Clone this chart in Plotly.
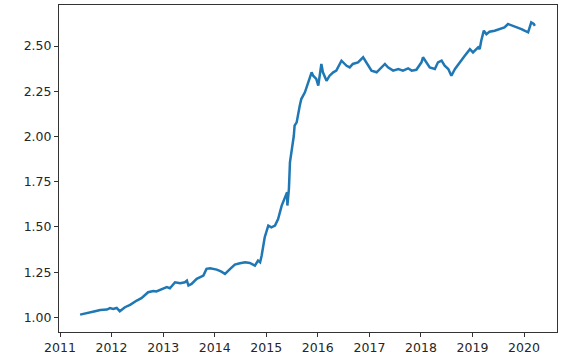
import pandas as pd
import plotly.graph_objects as go

# decimal years and values
years = [
    2011.39, 2011.58, 2011.68, 2011.78, 2011.91, 2011.97, 2012.03, 2012.10, 2012.16, 2012.26,
    2012.36, 2012.49, 2012.58, 2012.71, 2012.81, 2012.87, 2012.97, 2013.07, 2013.13, 2013.23,
    2013.33, 2013.42, 2013.46, 2013.49, 2013.55, 2013.65, 2013.78, 2013.84, 2013.91, 2014.04,
    2014.13, 2014.20, 2014.30, 2014.39, 2014.49, 2014.59, 2014.68, 2014.78, 2014.84, 2014.88,
    2014.91, 2014.94, 2014.97, 2015.04, 2015.10, 2015.17, 2015.23, 2015.30, 2015.36, 2015.405,
    2015.41, 2015.44, 2015.46, 2015.49, 2015.52, 2015.535, 2015.55, 2015.59, 2015.65, 2015.68,
    2015.75, 2015.81, 2015.88, 2015.91, 2015.97, 2016.01, 2016.04, 2016.07, 2016.10, 2016.17,
    2016.23, 2016.30, 2016.36, 2016.46, 2016.56, 2016.62, 2016.68, 2016.78, 2016.88, 2016.94,
    2017.04, 2017.14, 2017.20, 2017.30, 2017.36, 2017.46, 2017.56, 2017.65, 2017.75, 2017.82,
    2017.91, 2018.01, 2018.04, 2018.11, 2018.17, 2018.27, 2018.33, 2018.40, 2018.46, 2018.53,
    2018.59, 2018.66, 2018.75, 2018.85, 2018.95, 2019.01, 2019.11, 2019.14, 2019.17, 2019.22,
    2019.27, 2019.33, 2019.43, 2019.53, 2019.62, 2019.69, 2019.79, 2019.88, 2019.95, 2020.01,
    2020.08, 2020.11, 2020.14, 2020.19, 2020.21,
]
values = [
    1.015, 1.025, 1.034, 1.041, 1.043, 1.051, 1.047, 1.052, 1.034, 1.056,
    1.069, 1.093, 1.106, 1.139, 1.146, 1.143, 1.157, 1.167, 1.161, 1.194,
    1.189, 1.194, 1.203, 1.176, 1.185, 1.213, 1.231, 1.268, 1.272, 1.264,
    1.253, 1.240, 1.268, 1.292, 1.299, 1.305, 1.301, 1.286, 1.314, 1.305,
    1.341, 1.388, 1.443, 1.507, 1.498, 1.507, 1.544, 1.618, 1.664, 1.692,
    1.618, 1.710, 1.857, 1.922, 1.959, 2.004, 2.060, 2.078, 2.170, 2.207,
    2.244, 2.299, 2.355, 2.336, 2.318, 2.281, 2.336, 2.401, 2.355, 2.308,
    2.336, 2.355, 2.364, 2.419, 2.391, 2.382, 2.401, 2.410, 2.438, 2.410,
    2.364, 2.355, 2.373, 2.401, 2.382, 2.364, 2.373, 2.364, 2.377, 2.364,
    2.369, 2.410, 2.438, 2.410, 2.382, 2.373, 2.410, 2.419, 2.391, 2.373,
    2.336, 2.373, 2.410, 2.446, 2.483, 2.465, 2.493, 2.483, 2.529, 2.585,
    2.566, 2.579, 2.585, 2.594, 2.603, 2.622, 2.612, 2.603, 2.594, 2.585,
    2.576, 2.603, 2.631, 2.622, 2.612,
]
y_ticks = [1.00, 1.25, 1.50, 1.75, 2.00, 2.25, 2.50]
x_tick_years = list(range(2011, 2021))


def to_date(y):
    yr = int(y)
    start = pd.Timestamp(year=yr, month=1, day=1)
    return start + pd.Timedelta(days=(y - yr) * 365.25)


dates = [to_date(y) for y in years]
tick_dates = [pd.Timestamp(year=y, month=1, day=1) for y in x_tick_years]

fig = go.Figure()
fig.add_trace(go.Scatter(x=dates, y=values, mode="lines",
                         line=dict(color="#1f77b4", width=2.5)))

font = dict(family="DejaVu Sans", size=12.5, color="#262626")
fig.update_layout(
    width=564, height=363,
    margin=dict(l=59, r=7, t=5, b=31),
    paper_bgcolor="white", plot_bgcolor="white",
    showlegend=False,
    font=font,
)
fig.update_xaxes(
    range=[to_date(2010.98), to_date(2020.64)],
    tickvals=tick_dates, ticktext=[str(y) for y in x_tick_years],
    ticks="outside", ticklen=4, tickcolor="#333", tickwidth=1,
    showline=True, linecolor="#333", linewidth=1, mirror=True,
    showgrid=False, zeroline=False, tickfont=font,
)
fig.update_yaxes(
    range=[0.919, 2.727],
    tickvals=y_ticks, ticktext=[f"{v:.2f}" for v in y_ticks],
    ticks="outside", ticklen=4, tickcolor="#333", tickwidth=1,
    showline=True, linecolor="#333", linewidth=1, mirror=True,
    showgrid=False, zeroline=False, tickfont=font,
)
fig.write_html("out.html")
